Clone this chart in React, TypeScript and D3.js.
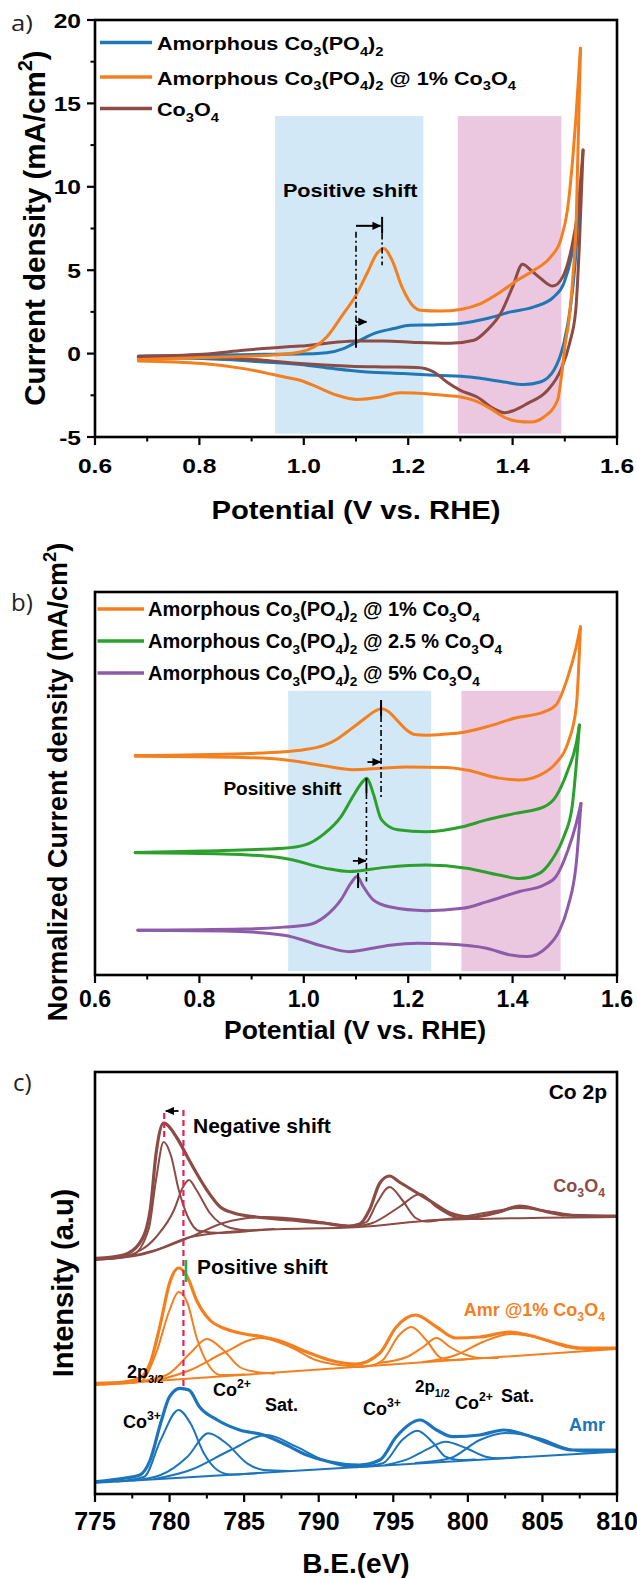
import React from 'react';
import * as d3 from 'd3';

type P = [number, number];

const W = 637, H = 1578;
const FONT = "'Liberation Sans', Arial, Helvetica, sans-serif";
const LFONT = "'Open Sans', 'Liberation Sans', sans-serif";

const cBlue = '#1f77b4', cOrange = '#f47f1f', cBrown = '#8c4b45', cGreen = '#2ca02c', cPurple = '#8e5ba9';
const cBlueC = '#1c75bc';
const shadeBlue = '#d3e8f6', shadePink = '#ebc8df';

// ---------------- Panel a data ----------------
const aXMajor = [0.6, 0.8, 1.0, 1.2, 1.4, 1.6];
const aXMinor = [0.7, 0.9, 1.1, 1.3, 1.5];
const aYMajor = [-5, 0, 5, 10, 15, 20];
const aYMinor = [-2.5, 2.5, 7.5, 12.5, 17.5];
const aLegend = ['Amorphous Co_3(PO_4)_2', 'Amorphous Co_3(PO_4)_2 @ 1% Co_3O_4', 'Co_3O_4'];
const aShadeBlue: P[] = [[0.945, -4.8], [1.229, 14.24]];
const aShadePink: P[] = [[1.295, -4.8], [1.4935, 14.24]];

const aBlueFwd: P[] = [[0.683, -0.16], [0.806, -0.1], [0.923, -0.04], [0.993, -0.03], [1.044, 0.05], [1.076, 0.3], [1.102, 0.7], [1.134, 1.2], [1.172, 1.5], [1.204, 1.7], [1.249, 1.72], [1.3, 1.8], [1.351, 2.1], [1.396, 2.5], [1.441, 2.8], [1.479, 3.4], [1.498, 4.2], [1.515, 6.2], [1.524, 8.2], [1.527, 9.2]];
const aBlueRev: P[] = [[0.683, -0.24], [0.806, -0.3], [0.923, -0.5], [0.993, -0.65], [1.057, -0.9], [1.121, -1.1], [1.19, -1.2], [1.255, -1.3], [1.319, -1.4], [1.383, -1.7], [1.422, -1.85], [1.453, -1.7], [1.479, -1.0], [1.498, 0.6], [1.51, 2.6], [1.52, 5.5], [1.527, 9.2]];
const aOrangeFwd: P[] = [[0.683, -0.36], [0.806, -0.24], [0.923, -0.12], [0.993, 0.1], [1.044, 1.0], [1.076, 2.4], [1.098, 3.4], [1.121, 4.8], [1.14, 6.0], [1.153, 6.3], [1.169, 5.6], [1.188, 4.0], [1.211, 2.8], [1.223, 2.6], [1.262, 2.55], [1.3, 2.65], [1.339, 3.0], [1.377, 3.7], [1.409, 4.4], [1.441, 5.0], [1.473, 5.8], [1.492, 6.8], [1.505, 8.6], [1.515, 11.6], [1.521, 14.0], [1.53, 18.3]];
const aOrangeRev: P[] = [[0.683, -0.44], [0.806, -0.6], [0.885, -0.9], [0.963, -1.4], [0.993, -1.6], [1.025, -2.0], [1.064, -2.5], [1.102, -2.75], [1.147, -2.6], [1.185, -2.35], [1.236, -2.4], [1.268, -2.5], [1.3, -2.6], [1.326, -2.8], [1.358, -3.3], [1.383, -3.8], [1.409, -4.05], [1.435, -4.1], [1.46, -3.8], [1.486, -2.8], [1.495, -1.0], [1.5, 0.4], [1.508, 2.0], [1.515, 4.4], [1.522, 8.0], [1.53, 18.3]];
const aBrownFwd: P[] = [[0.683, -0.16], [0.806, -0.04], [0.885, 0.2], [0.963, 0.4], [0.993, 0.45], [1.057, 0.67], [1.102, 0.76], [1.153, 0.76], [1.217, 0.66], [1.281, 0.62], [1.326, 0.8], [1.351, 1.4], [1.377, 2.4], [1.4, 4.0], [1.419, 5.36], [1.435, 5.0], [1.454, 4.5], [1.477, 4.05], [1.496, 4.6], [1.512, 6.2], [1.525, 8.6], [1.535, 12.2]];
const aBrownRev: P[] = [[0.683, -0.2], [0.806, -0.24], [0.923, -0.4], [0.993, -0.6], [1.089, -0.76], [1.153, -0.8], [1.217, -0.83], [1.249, -1.1], [1.274, -1.7], [1.3, -2.2], [1.332, -2.6], [1.364, -3.3], [1.385, -3.55], [1.403, -3.4], [1.428, -3.0], [1.467, -2.2], [1.492, -1.0], [1.509, 0.6], [1.521, 2.6], [1.528, 6.6], [1.535, 12.2]];

// ---------------- Panel b data (normalized, arbitrary units) ----------------
const bLegend = ['Amorphous Co_3(PO_4)_2 @ 1% Co_3O_4', 'Amorphous Co_3(PO_4)_2 @ 2.5 % Co_3O_4', 'Amorphous Co_3(PO_4)_2 @ 5% Co_3O_4'];
const bShadeBlue: P[] = [[0.97, 0.1], [1.244, 7.42]];
const bShadePink: P[] = [[1.302, 0.1], [1.492, 7.42]];
const bOrangeFwd: P[] = [[0.677, 5.73], [0.885, 5.78], [0.962, 5.83], [1.0, 5.88], [1.04, 6.0], [1.065, 6.17], [1.09, 6.42], [1.118, 6.71], [1.135, 6.88], [1.149, 6.95], [1.162, 6.88], [1.178, 6.66], [1.195, 6.42], [1.212, 6.28], [1.235, 6.26], [1.273, 6.29], [1.304, 6.33], [1.35, 6.48], [1.405, 6.71], [1.46, 6.87], [1.483, 7.05], [1.506, 7.79], [1.522, 8.57], [1.53, 9.09]];
const bOrangeRev: P[] = [[0.677, 5.71], [0.885, 5.68], [0.962, 5.62], [1.0, 5.55], [1.04, 5.46], [1.094, 5.36], [1.149, 5.4], [1.195, 5.43], [1.273, 5.42], [1.312, 5.35], [1.374, 5.14], [1.413, 5.09], [1.452, 5.22], [1.483, 5.53], [1.506, 6.06], [1.522, 7.0], [1.53, 9.09]];
const bGreenFwd: P[] = [[0.677, 3.2], [0.807, 3.24], [0.962, 3.31], [1.001, 3.39], [1.04, 3.7], [1.071, 4.13], [1.094, 4.66], [1.11, 5.0], [1.121, 5.14], [1.133, 4.74], [1.149, 4.05], [1.18, 3.79], [1.234, 3.74], [1.304, 3.87], [1.35, 4.05], [1.405, 4.22], [1.46, 4.39], [1.483, 4.66], [1.506, 5.35], [1.522, 6.05], [1.528, 6.53]];
const bGreenRev: P[] = [[0.677, 3.19], [0.846, 3.16], [0.962, 3.05], [1.04, 2.79], [1.087, 2.7], [1.156, 2.81], [1.234, 2.87], [1.312, 2.79], [1.374, 2.61], [1.413, 2.52], [1.452, 2.66], [1.475, 3.0], [1.498, 3.61], [1.514, 4.39], [1.528, 6.53]];
const bPurpleFwd: P[] = [[0.682, 1.17], [0.885, 1.2], [0.962, 1.25], [1.009, 1.31], [1.04, 1.52], [1.071, 1.96], [1.09, 2.39], [1.102, 2.57], [1.114, 2.31], [1.133, 1.96], [1.164, 1.78], [1.234, 1.68], [1.304, 1.74], [1.35, 1.91], [1.413, 2.18], [1.46, 2.35], [1.483, 2.57], [1.506, 3.26], [1.522, 3.96], [1.531, 4.48]];
const bPurpleRev: P[] = [[0.682, 1.17], [0.846, 1.15], [0.962, 1.04], [1.04, 0.74], [1.087, 0.61], [1.156, 0.76], [1.218, 0.83], [1.273, 0.81], [1.35, 0.7], [1.397, 0.52], [1.428, 0.48], [1.467, 0.74], [1.49, 1.17], [1.506, 1.78], [1.522, 2.92], [1.531, 4.48]];

// ---------------- Panel c data (XPS, arbitrary intensity) ----------------
const cXMajor = [775, 780, 785, 790, 795, 800, 805, 810];
const cXMinor = [777.5, 782.5, 787.5, 792.5, 797.5, 802.5, 807.5];

const co3o4Env: P[] = [[775.1, 23.57], [776.9, 23.9], [778.0, 25.1], [778.7, 28.4], [779.1, 34.1], [779.6, 37.1], [780.5, 35.6], [781.2, 33.7], [781.8, 32.1], [782.5, 30.4], [783.4, 28.7], [784.3, 28.1], [785.8, 27.7], [788.1, 27.4], [790.3, 27.1], [792.0, 26.8], [792.75, 27.0], [793.4, 28.4], [794.1, 31.1], [794.75, 31.8], [795.4, 31.2], [796.5, 30.2], [797.7, 29.1], [798.8, 28.1], [800.3, 27.7], [802.1, 28.2], [803.5, 28.8], [804.8, 28.4], [806.6, 27.9], [809.9, 27.8]];
const co3o4Bg: P[] = [[775.1, 23.4], [777.0, 23.7], [779.1, 24.4], [781.4, 25.7], [785.8, 26.4], [792.7, 26.7], [798.1, 27.4], [809.9, 27.7]];
const co3o4C1: P[] = [[775.1, 23.45], [777.5, 23.9], [778.6, 26.5], [779.1, 31.5], [779.6, 35.2], [780.1, 33.8], [780.6, 30.5], [781.2, 27.8], [782.0, 26.3], [783.5, 26.1], [786.0, 26.4]];
const co3o4C2: P[] = [[777.0, 23.7], [779.1, 25.7], [780.3, 28.4], [780.9, 30.7], [781.3, 31.4], [781.8, 30.4], [782.7, 28.1], [784.1, 26.6], [785.4, 26.35], [787.0, 26.5]];
const co3o4C3: P[] = [[776.0, 23.5], [778.0, 23.9], [781.4, 25.7], [783.6, 27.1], [786.3, 27.7], [789.2, 27.4], [791.4, 26.9], [792.7, 26.7]];
const co3o4C4: P[] = [[792.0, 26.7], [793.2, 27.2], [793.9, 29.1], [794.75, 30.7], [795.6, 29.4], [796.5, 27.6], [797.2, 27.25], [798.1, 27.4]];
const co3o4C5: P[] = [[792.5, 26.75], [793.6, 27.1], [795.4, 28.7], [796.8, 30.0], [797.9, 28.7], [798.8, 27.9], [799.9, 27.5], [801.0, 27.5]];
const co3o4C6: P[] = [[797.0, 27.3], [799.2, 27.6], [801.5, 28.2], [803.5, 28.6], [805.7, 28.2], [808.2, 27.7], [809.9, 27.7]];

const amr1Env: P[] = [[775.1, 11.07], [776.9, 11.2], [778.0, 11.6], [778.7, 13.1], [779.4, 17.1], [780.0, 21.1], [780.6, 22.6], [781.2, 21.7], [781.8, 19.4], [782.7, 17.4], [783.6, 16.6], [784.7, 16.1], [786.3, 15.7], [787.6, 15.2], [789.2, 14.2], [790.7, 13.4], [792.5, 13.0], [794.1, 14.1], [795.2, 16.7], [796.5, 17.9], [797.9, 16.7], [799.2, 15.6], [800.8, 15.7], [802.8, 16.2], [804.3, 15.8], [805.9, 15.1], [807.5, 14.6], [809.9, 14.6]];
const amr1Bg: P[] = [[775.1, 10.9], [809.9, 14.5]];
const amr1C1: P[] = [[775.5, 10.95], [778.0, 11.2], [779.1, 14.1], [780.0, 18.4], [780.6, 20.2], [781.2, 19.1], [781.8, 15.7], [782.7, 12.7], [783.4, 11.9], [785.0, 11.95]];
const amr1C2: P[] = [[777.5, 11.15], [779.8, 11.9], [781.4, 14.1], [782.5, 15.5], [783.6, 14.4], [784.7, 12.7], [785.8, 12.2], [787.0, 12.05]];
const amr1C3: P[] = [[779.0, 11.3], [781.4, 12.4], [783.6, 14.1], [786.1, 15.6], [788.1, 14.7], [789.8, 13.4], [791.4, 12.9], [793.0, 12.75]];
const amr1C4: P[] = [[792.5, 12.7], [793.5, 12.85], [794.3, 13.4], [795.4, 15.9], [796.2, 16.7], [797.2, 15.4], [798.1, 13.7], [798.8, 13.4], [800.0, 13.5]];
const amr1C5: P[] = [[794.0, 13.1], [795.9, 13.7], [797.0, 14.7], [797.9, 15.6], [798.8, 14.7], [799.9, 13.9], [800.8, 13.6], [802.0, 13.6]];
const amr1C6: P[] = [[797.0, 13.2], [799.2, 13.9], [801.0, 15.2], [802.9, 16.0], [804.8, 15.6], [806.6, 14.7], [807.9, 14.5], [809.9, 14.5]];

const amrEnv: P[] = [[775.1, 1.23], [776.9, 1.57], [778.0, 1.9], [778.7, 3.4], [779.4, 7.07], [780.0, 9.73], [780.7, 10.57], [781.3, 10.4], [782.0, 8.73], [783.2, 7.4], [784.7, 6.4], [786.3, 5.9], [787.6, 5.07], [789.2, 3.9], [790.7, 3.23], [792.7, 2.9], [794.1, 3.4], [795.2, 5.73], [796.8, 7.4], [797.9, 6.4], [799.0, 5.73], [800.8, 5.9], [802.4, 6.4], [803.9, 5.9], [805.7, 4.9], [807.0, 4.4], [809.9, 4.4]];
const amrBg: P[] = [[775.1, 1.13], [809.9, 4.23]];
const amrC1: P[] = [[776.5, 1.26], [778.3, 1.73], [779.4, 5.4], [780.6, 8.4], [781.4, 7.07], [782.3, 4.07], [783.2, 2.4], [784.1, 1.95], [786.0, 2.1]];
const amrC2: P[] = [[777.5, 1.35], [779.4, 1.9], [781.2, 3.73], [782.6, 6.07], [783.8, 5.07], [785.2, 3.07], [786.3, 2.4], [788.0, 2.3]];
const amrC3: P[] = [[779.0, 1.5], [781.4, 2.4], [784.1, 4.4], [786.5, 5.9], [788.5, 4.73], [790.3, 3.4], [792.1, 2.73], [794.0, 2.8]];
const amrC4: P[] = [[792.5, 2.67], [794.3, 3.07], [795.6, 5.4], [796.6, 6.33], [797.7, 5.07], [798.5, 3.73], [799.4, 3.4], [800.5, 3.45]];
const amrC5: P[] = [[794.5, 2.9], [796.1, 3.57], [797.4, 4.57], [798.5, 5.23], [799.9, 4.57], [801.2, 3.73], [802.1, 3.57], [803.5, 3.7]];
const amrC6: P[] = [[796.5, 3.1], [798.8, 3.57], [800.8, 5.4], [802.5, 6.1], [804.8, 5.57], [806.6, 4.57], [807.9, 4.23], [809.9, 4.23]];

// ---------------- scales ----------------
const ax = d3.scaleLinear().domain([0.6, 1.6]).range([95, 617]);
const ay = d3.scaleLinear().domain([-5, 20]).range([437, 20]);
const bx = ax;
const by = d3.scaleLinear().domain([0, 10]).range([975, 592]);
const cx = d3.scaleLinear().domain([775, 810]).range([95, 617]);
const cy = d3.scaleLinear().domain([0, 42.2]).range([1494, 1072]);

const mkLine = (xs: any, ys: any) =>
  d3.line<P>().x(d => xs(d[0])).y(d => ys(d[1])).curve(d3.curveMonotoneX);

// ---------------- rich text ----------------
function parseRich(s: string) {
  const segs: { t: string; k: number }[] = [];
  const re = /_\{([^}]*)\}|\^\{([^}]*)\}|_(.)|\^(.)/g;
  let last = 0;
  let m: RegExpExecArray | null;
  while ((m = re.exec(s))) {
    if (m.index > last) segs.push({ t: s.slice(last, m.index), k: 0 });
    if (m[1] !== undefined) segs.push({ t: m[1], k: 1 });
    else if (m[2] !== undefined) segs.push({ t: m[2], k: 2 });
    else if (m[3] !== undefined) segs.push({ t: m[3], k: 1 });
    else segs.push({ t: m[4], k: 2 });
    last = re.lastIndex;
  }
  if (last < s.length) segs.push({ t: s.slice(last), k: 0 });
  return segs;
}

function Label(props: { x: number; y: number; s: string; fs: number; anchor?: string; weight?: any; fill?: string; sx?: number; rot?: number; family?: string; subScale?: number }) {
  const { x, y, s, fs, anchor = 'start', weight = 'bold', fill = '#000', sx = 1, rot = 0, family = FONT, subScale = 0.68 } = props;
  const tr = `translate(${x},${y})` + (rot ? ` rotate(${rot})` : '') + (sx !== 1 ? ` scale(${sx},1)` : '');
  const segs = parseRich(s);
  let cur = 0;
  return (
    <text transform={tr} fontSize={fs} fontWeight={weight} textAnchor={anchor as any} fill={fill} fontFamily={family} style={{ whiteSpace: 'pre' }}>
      {segs.map((g, i) => {
        const target = g.k === 1 ? 0.3 * fs : g.k === 2 ? -0.42 * fs : 0;
        const dy = target - cur;
        cur = target;
        return (
          <tspan key={i} dy={dy} fontSize={g.k ? fs * subScale : fs}>
            {g.t}
          </tspan>
        );
      })}
    </text>
  );
}

function Frame({ x0, x1, y0, y1 }: { x0: number; x1: number; y0: number; y1: number }) {
  return <rect x={x0} y={y0} width={x1 - x0} height={y1 - y0} fill="none" stroke="#000" strokeWidth={2.6} />;
}

function XTicks({ xs, major, minor, y, fmt, labelY, fs, sx = 1 }: any) {
  return (
    <g>
      {major.map((t: number) => (
        <line key={'M' + t} x1={xs(t)} x2={xs(t)} y1={y} y2={y + 8} stroke="#000" strokeWidth={2.2} />
      ))}
      {minor.map((t: number) => (
        <line key={'m' + t} x1={xs(t)} x2={xs(t)} y1={y} y2={y + 4.5} stroke="#000" strokeWidth={2} />
      ))}
      {major.map((t: number) => (
        <Label key={'L' + t} x={xs(t)} y={labelY} s={fmt(t)} fs={fs} anchor="middle" sx={sx} />
      ))}
    </g>
  );
}

function CV({ fwd, rev, color, line }: { fwd: P[]; rev: P[]; color: string; line: any }) {
  return (
    <g fill="none" stroke={color} strokeWidth={3} strokeLinejoin="round" strokeLinecap="round">
      <path d={line(fwd) || ''} />
      <path d={line(rev) || ''} />
    </g>
  );
}

const DASHDOT = '6 3 2 3';

export default function App() {
  const la = mkLine(ax, ay);
  const lb = mkLine(bx, by);
  const lc = mkLine(cx, cy);
  const f1 = d3.format('.1f');

  const shade = (r: P[], xs: any, ys: any, fill: string) => (
    <rect x={xs(r[0][0])} y={ys(r[1][1])} width={xs(r[1][0]) - xs(r[0][0])} height={ys(r[0][1]) - ys(r[1][1])} fill={fill} />
  );

  const xps = (env: P[], bg: P[], comps: P[][], color: string) => (
    <g fill="none" stroke={color} strokeLinejoin="round" strokeLinecap="round">
      <path d={lc(bg) || ''} strokeWidth={2} />
      {comps.map((c, i) => (
        <path key={i} d={lc(c) || ''} strokeWidth={2} />
      ))}
      <path d={lc(env) || ''} strokeWidth={3.2} />
    </g>
  );

  const SXA = 1.17;

  return (
    <svg width={W} height={H} viewBox={`0 0 ${W} ${H}`} style={{ position: 'absolute', left: 0, top: 0, background: '#fff' }}>
      <defs>
        <marker id="ah" viewBox="0 0 10 10" refX="9" refY="5" markerWidth="9" markerHeight="9" markerUnits="userSpaceOnUse" orient="auto">
          <path d="M0,0.5 L10,5 L0,9.5 z" fill="#000" />
        </marker>
      </defs>
      <rect x={0} y={0} width={W} height={H} fill="#fff" />

      {/* ================= Panel a ================= */}
      <Label x={11} y={31} s="a)" fs={22} weight={400} fill="#222" family={LFONT} sx={SXA} />
      {shade(aShadeBlue, ax, ay, shadeBlue)}
      {shade(aShadePink, ax, ay, shadePink)}
      <CV fwd={aBlueFwd} rev={aBlueRev} color={cBlue} line={la} />
      <CV fwd={aBrownFwd} rev={aBrownRev} color={cBrown} line={la} />
      <CV fwd={aOrangeFwd} rev={aOrangeRev} color={cOrange} line={la} />
      <g stroke="#000" strokeWidth={1.6} fill="none">
        <line x1={ax(1.1)} x2={ax(1.1)} y1={ay(7.3)} y2={ay(1.6)} strokeDasharray={DASHDOT} />
        <line x1={ax(1.1)} x2={ax(1.1)} y1={ay(1.6)} y2={ay(0.35)} strokeWidth={2} />
        <line x1={ax(1.15)} x2={ax(1.15)} y1={ay(8.2)} y2={ay(7.2)} strokeWidth={2} />
        <line x1={ax(1.15)} x2={ax(1.15)} y1={ay(7.2)} y2={ay(5.3)} strokeDasharray={DASHDOT} />
        <line x1={ax(1.1)} x2={ax(1.147)} y1={ay(7.66)} y2={ay(7.66)} strokeWidth={2} markerEnd="url(#ah)" />
        <line x1={ax(1.1)} x2={ax(1.12)} y1={ay(1.9)} y2={ay(1.9)} strokeWidth={2} markerEnd="url(#ah)" />
      </g>
      <Label x={ax(0.96)} y={ay(9.38)} s="Positive shift" fs={18.5} sx={SXA} />
      {aLegend.map((s, i) => {
        const base = [50, 84.5, 116][i];
        const col = [cBlue, cOrange, cBrown][i];
        return (
          <g key={i}>
            <line x1={100} x2={152} y1={base - 7.5} y2={base - 7.5} stroke={col} strokeWidth={3.5} />
            <Label x={157} y={base} s={s} fs={18.5} sx={SXA} />
          </g>
        );
      })}
      <Frame x0={95} x1={617} y0={ay(20)} y1={ay(-5)} />
      {aYMajor.map(t => (
        <g key={'ya' + t}>
          <line x1={95} x2={87} y1={ay(t)} y2={ay(t)} stroke="#000" strokeWidth={2.2} />
          <Label x={81} y={ay(t) + 7.5} s={String(t)} fs={21} anchor="end" sx={SXA} />
        </g>
      ))}
      {aYMinor.map(t => (
        <line key={'yam' + t} x1={95} x2={90.5} y1={ay(t)} y2={ay(t)} stroke="#000" strokeWidth={2} />
      ))}
      <XTicks xs={ax} major={aXMajor} minor={aXMinor} y={ay(-5)} fmt={f1} labelY={473} fs={21} sx={SXA} />
      <Label x={356} y={519} s="Potential (V vs. RHE)" fs={25} anchor="middle" sx={SXA} />
      <Label x={44.5} y={228} s="Current density (mA/cm^2)" fs={29.5} anchor="middle" rot={-90} />

      {/* ================= Panel b ================= */}
      <Label x={11} y={611} s="b)" fs={24} weight={400} fill="#222" family={LFONT} />
      {shade(bShadeBlue, bx, by, shadeBlue)}
      {shade(bShadePink, bx, by, shadePink)}
      <CV fwd={bOrangeFwd} rev={bOrangeRev} color={cOrange} line={lb} />
      <CV fwd={bGreenFwd} rev={bGreenRev} color={cGreen} line={lb} />
      <CV fwd={bPurpleFwd} rev={bPurpleRev} color={cPurple} line={lb} />
      <g stroke="#000" strokeWidth={1.6} fill="none">
        <line x1={bx(1.148)} x2={bx(1.148)} y1={by(7.18)} y2={by(6.76)} strokeWidth={2} />
        <line x1={bx(1.148)} x2={bx(1.148)} y1={by(6.76)} y2={by(4.65)} strokeDasharray={DASHDOT} />
        <line x1={bx(1.12)} x2={bx(1.12)} y1={by(5.14)} y2={by(4.75)} strokeWidth={2} />
        <line x1={bx(1.12)} x2={bx(1.12)} y1={by(4.75)} y2={by(2.44)} strokeDasharray={DASHDOT} />
        <line x1={bx(1.104)} x2={bx(1.104)} y1={by(2.66)} y2={by(2.27)} strokeWidth={2} />
        <line x1={bx(1.122)} x2={bx(1.147)} y1={by(5.56)} y2={by(5.56)} strokeWidth={1.8} markerEnd="url(#ah)" />
        <line x1={bx(1.094)} x2={bx(1.119)} y1={by(2.98)} y2={by(2.98)} strokeWidth={1.8} markerEnd="url(#ah)" />
      </g>
      <Label x={bx(0.846)} y={by(4.7)} s="Positive shift" fs={19} />
      {bLegend.map((s, i) => {
        const base = [616, 648, 680][i];
        const col = [cOrange, cGreen, cPurple][i];
        return (
          <g key={i}>
            <line x1={97.5} x2={144} y1={base - 7} y2={base - 7} stroke={col} strokeWidth={3.5} />
            <Label x={148} y={base} s={s} fs={20} />
          </g>
        );
      })}
      <Frame x0={95} x1={617} y0={592} y1={975} />
      <XTicks xs={bx} major={aXMajor} minor={aXMinor} y={975} fmt={f1} labelY={1006.5} fs={23} />
      <Label x={355} y={1039} s="Potential (V vs. RHE)" fs={26.5} anchor="middle" />
      <Label x={67} y={782} s="Normalized Current density (mA/cm^2)" fs={27} anchor="middle" rot={-90} />

      {/* ================= Panel c ================= */}
      <Label x={13} y={1091} s="c)" fs={24} weight={400} fill="#222" family={LFONT} />
      {xps(co3o4Env, co3o4Bg, [co3o4C1, co3o4C2, co3o4C3, co3o4C4, co3o4C5, co3o4C6], cBrown)}
      {xps(amr1Env, amr1Bg, [amr1C1, amr1C2, amr1C3, amr1C4, amr1C5, amr1C6], cOrange)}
      {xps(amrEnv, amrBg, [amrC1, amrC2, amrC3, amrC4, amrC5, amrC6], cBlueC)}
      <g fill="none">
        <line x1={cx(780.93)} x2={cx(780.93)} y1={cy(38.4)} y2={cy(10.4)} stroke="#e8205a" strokeWidth={2.2} strokeDasharray="6 4" />
        <line x1={cx(779.64)} x2={cx(779.64)} y1={cy(38.1)} y2={cy(35.4)} stroke="#e8205a" strokeWidth={2.2} strokeDasharray="6 3" />
        <line x1={cx(781.1)} x2={cx(781.1)} y1={cy(23.4)} y2={cy(21.2)} stroke="#22b04b" strokeWidth={2.6} />
        <line x1={cx(780.6)} x2={cx(779.75)} y1={cy(38.3)} y2={cy(38.3)} stroke="#000" strokeWidth={1.8} markerEnd="url(#ah)" />
      </g>
      <Label x={193} y={1133} s="Negative shift" fs={21} />
      <Label x={197} y={1274} s="Positive shift" fs={21} />
      <Label x={607} y={1099} s="Co 2p" fs={21} anchor="end" />
      <Label x={605} y={1192} s="Co_3O_4" fs={18} anchor="end" fill={cBrown} />
      <Label x={605} y={1316} s="Amr @1% Co_3O_4" fs={18} anchor="end" fill={cOrange} />
      <Label x={605} y={1431} s="Amr" fs={18} anchor="end" fill={cBlueC} />
      <Label x={127} y={1378} s="2p_{3/2}" fs={18} subScale={0.62} />
      <Label x={213} y={1396} s="Co^{2+}" fs={18} />
      <Label x={265} y={1411} s="Sat." fs={18} />
      <Label x={123} y={1428} s="Co^{3+}" fs={18} />
      <Label x={363} y={1415} s="Co^{3+}" fs={18} />
      <Label x={415} y={1392} s="2p_{1/2}" fs={17} subScale={0.62} />
      <Label x={455} y={1409} s="Co^{2+}" fs={18} />
      <Label x={501} y={1402} s="Sat." fs={18} />
      <Frame x0={95} x1={617} y0={1072} y1={1494} />
      <XTicks xs={cx} major={cXMajor} minor={cXMinor} y={1494} fmt={(t: number) => String(t)} labelY={1530} fs={25} />
      <Label x={356} y={1573} s="B.E.(eV)" fs={28} anchor="middle" />
      <Label x={73} y={1283} s="Intensity (a.u)" fs={29} anchor="middle" rot={-90} />
    </svg>
  );
}
